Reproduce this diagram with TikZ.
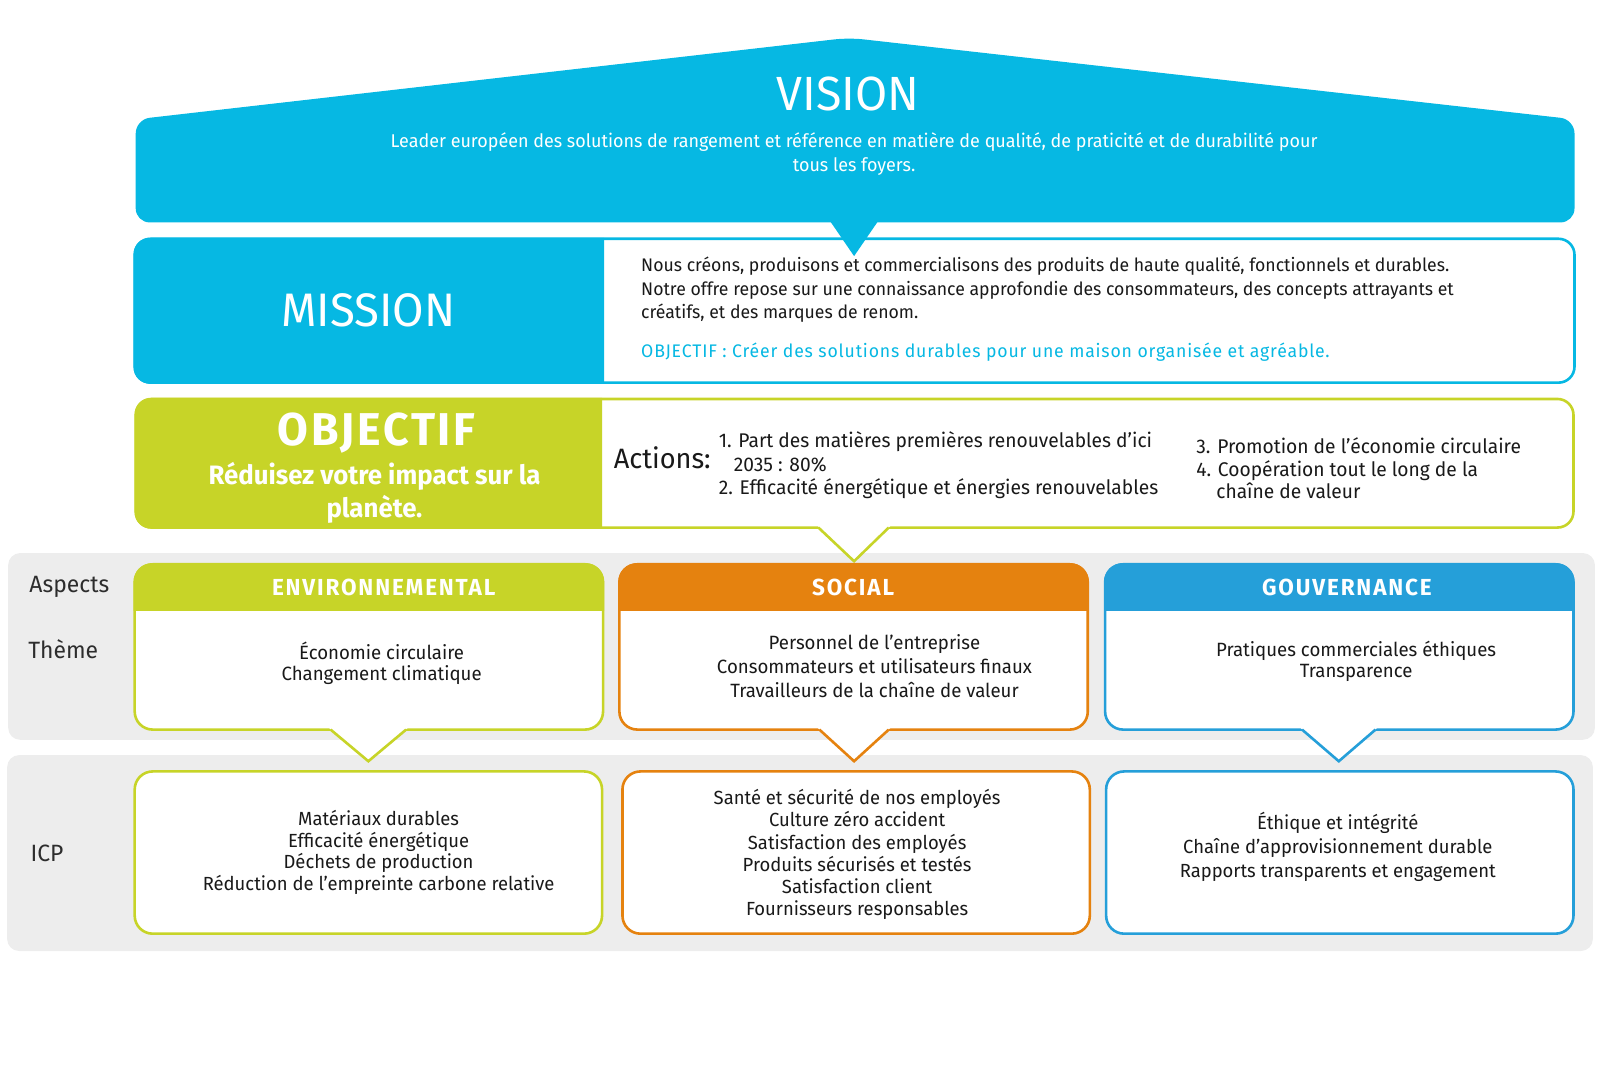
\documentclass[tikz,border=0pt]{standalone}
\usepackage{fontspec}
\setmainfont[FakeStretch=0.97]{Fira Sans}
\definecolor{cyanc}{RGB}{6,184,227}
\definecolor{greenc}{RGB}{199,212,40}
\definecolor{orangec}{RGB}{229,130,15}
\definecolor{bluec}{RGB}{37,159,217}
\definecolor{bandgrey}{RGB}{237,237,237}
\definecolor{darktxt}{RGB}{25,25,25}
\definecolor{labeltxt}{RGB}{45,45,45}
\newcommand{\myfs}[2]{\fontsize{#1}{#2}\selectfont}
\tikzset{
  txtw/.style={text=white, inner sep=0pt},
  txtd/.style={text=darktxt, inner sep=0pt},
  lbl/.style={text=labeltxt, inner sep=0pt, font=\myfs{11.8}{13}},
  bodytxt/.style={text=darktxt, inner sep=0pt, align=center},
  frame/.style={line width=1.3pt, fill=white, rounded corners=9pt},
  tailline/.style={line width=1.3pt, line join=miter},
  headtxt/.style={text=white, inner sep=0pt, font=\bfseries\myfs{11.6}{13}\addfontfeature{LetterSpace=8}}
}
\begin{document}
\begin{tikzpicture}[x=0.5102pt,y=-0.5102pt]
\useasboundingbox (0,0) rectangle (1568,1045.5);

% grey bands
\fill[bandgrey, rounded corners=6pt] (8,542) rectangle (1563,725);
\fill[bandgrey, rounded corners=6pt] (7,740) rectangle (1561,932);

% MISSION box
\draw[cyanc, frame, rounded corners=8pt] (132,234) rectangle (1543,375);
\begin{scope}
  \clip (120,220) rectangle (592,390);
  \fill[cyanc, rounded corners=8pt] (131,233) rectangle (1544,376);
\end{scope}

% VISION shape
\fill[cyanc, rounded corners=7pt] (133,218) -- (133,117) -- (832,37) -- (1543,117) -- (1543,218) -- cycle;
\fill[cyanc] (813,216) -- (861,216) -- (837,251) -- cycle;

% OBJECTIF box
\draw[greenc, frame, rounded corners=8pt] (133,391) rectangle (1542,517);
\begin{scope}
  \clip (120,380) rectangle (590,530);
  \fill[greenc, rounded corners=8pt] (132,390) rectangle (1543,518);
\end{scope}
\fill[white] (801,515) -- (873,515) -- (837,549) -- cycle;
\draw[greenc, tailline] (802,517) -- (837,550) -- (871,517);

% Aspect columns
\draw[greenc, frame] (132,553) rectangle (591,715);
\begin{scope}
  \clip (120,540) rectangle (600,598);
  \fill[greenc, rounded corners=9pt] (131,552) rectangle (592,716);
\end{scope}
\fill[white] (322,713) -- (400,713) -- (361,745) -- cycle;
\draw[greenc, tailline] (324,715) -- (361,746) -- (398,715);

\draw[orangec, frame] (607,553) rectangle (1066,715);
\begin{scope}
  \clip (600,540) rectangle (1075,598);
  \fill[orangec, rounded corners=9pt] (606,552) rectangle (1067,716);
\end{scope}
\fill[white] (801,713) -- (873,713) -- (837,745) -- cycle;
\draw[orangec, tailline] (803,715) -- (837,746) -- (871,715);

\draw[bluec, frame] (1083,553) rectangle (1542,715);
\begin{scope}
  \clip (1075,540) rectangle (1555,598);
  \fill[bluec, rounded corners=9pt] (1082,552) rectangle (1543,716);
\end{scope}
\fill[white] (1274,713) -- (1350,713) -- (1312,745) -- cycle;
\draw[bluec, tailline] (1276,715) -- (1312,746) -- (1348,715);

% ICP boxes
\draw[greenc, frame] (132,756) rectangle (590,915);
\draw[orangec, frame] (610,756) rectangle (1068,915);
\draw[bluec, frame] (1084,756) rectangle (1542,915);

% ---- Texts ----
\node[txtw, font=\myfs{24}{27}] (vision) at (831,92) {VISION};
\node[txtw, align=center, font=\myfs{9.25}{12.25}] (visiontxt) at (837,151)
  {Leader européen des solutions de rangement et référence en matière de qualité, de praticité et de durabilité pour\\tous les foyers.};

\node[txtw, font=\myfs{23.5}{26}] (mission) at (361,304) {MISSION};
\node[txtd, anchor=west, align=left, font=\myfs{9.1}{11.75}] (missiontxt) at (628,284)
  {Nous créons, produisons et commercialisons des produits de haute qualité, fonctionnels et durables.\\Notre offre repose sur une connaissance approfondie des consommateurs, des concepts attrayants et\\créatifs, et des marques de renom.};
\node[anchor=west, inner sep=0pt, text=cyanc, font=\myfs{9.1}{11.75}\addfontfeature{LetterSpace=4.5}] (missionobj) at (628,345)
  {OBJECTIF : Créer des solutions durables pour une maison organisée et agréable.};

\node[txtw, font=\bfseries\myfs{23}{26}\addfontfeature{LetterSpace=6}] (objectif) at (369,424) {OBJECTIF};
\node[txtw, align=center, font=\bfseries\myfs{13.3}{16.3}] (objsub) at (367,483)
  {Réduisez votre impact sur la\\planète.};
\node[txtd, font=\myfs{14}{16}] (actions) at (649,449) {Actions:};
\node[txtd, anchor=west, align=left, font=\myfs{9.9}{11.75}] (act12) at (704,456)
  {1. Part des matières premières renouvelables d’ici\\\hspace*{7.5pt}2035 : 80\%\\2. Efficacité énergétique et énergies renouvelables};
\node[txtd, anchor=west, align=left, font=\myfs{9.9}{11.25}] (act34) at (1172,459)
  {3. Promotion de l’économie circulaire\\4. Coopération tout le long de la\\\hspace*{10pt}chaîne de valeur};

% labels
\node[lbl] (aspects) at (68,575) {Aspects};
\node[lbl] (theme) at (62,636) {Thème};
\node[lbl] (icp) at (46,836) {ICP};

% column headers
\node[headtxt] (envh) at (376,576) {ENVIRONNEMENTAL};
\node[headtxt] (soch) at (836,576) {SOCIAL};
\node[headtxt] (gouvh) at (1320,576) {GOUVERNANCE};

% theme texts
\node[bodytxt, font=\myfs{9.6}{10.75}] (envt) at (374,650) {Économie circulaire\\Changement climatique};
\node[bodytxt, font=\myfs{9.6}{12}] (soct) at (857,653) {Personnel de l’entreprise\\Consommateurs et utilisateurs finaux\\Travailleurs de la chaîne de valeur};
\node[bodytxt, font=\myfs{9.6}{10.75}] (gouvt) at (1329,648) {Pratiques commerciales éthiques\\Transparence};

% ICP texts
\node[bodytxt, font=\myfs{9.5}{10.75}] (envicp) at (371,835.5) {Matériaux durables\\Efficacité énergétique\\Déchets de production\\Réduction de l’empreinte carbone relative};
\node[bodytxt, font=\myfs{9.5}{11.1}] (socicp) at (840,837.5) {Santé et sécurité de nos employés\\Culture zéro accident\\Satisfaction des employés\\Produits sécurisés et testés\\Satisfaction client\\Fournisseurs responsables};
\node[bodytxt, font=\myfs{9.5}{12}] (gouvicp) at (1311,830) {Éthique et intégrité\\Chaîne d’approvisionnement durable\\Rapports transparents et engagement};
\end{tikzpicture}
\end{document}
